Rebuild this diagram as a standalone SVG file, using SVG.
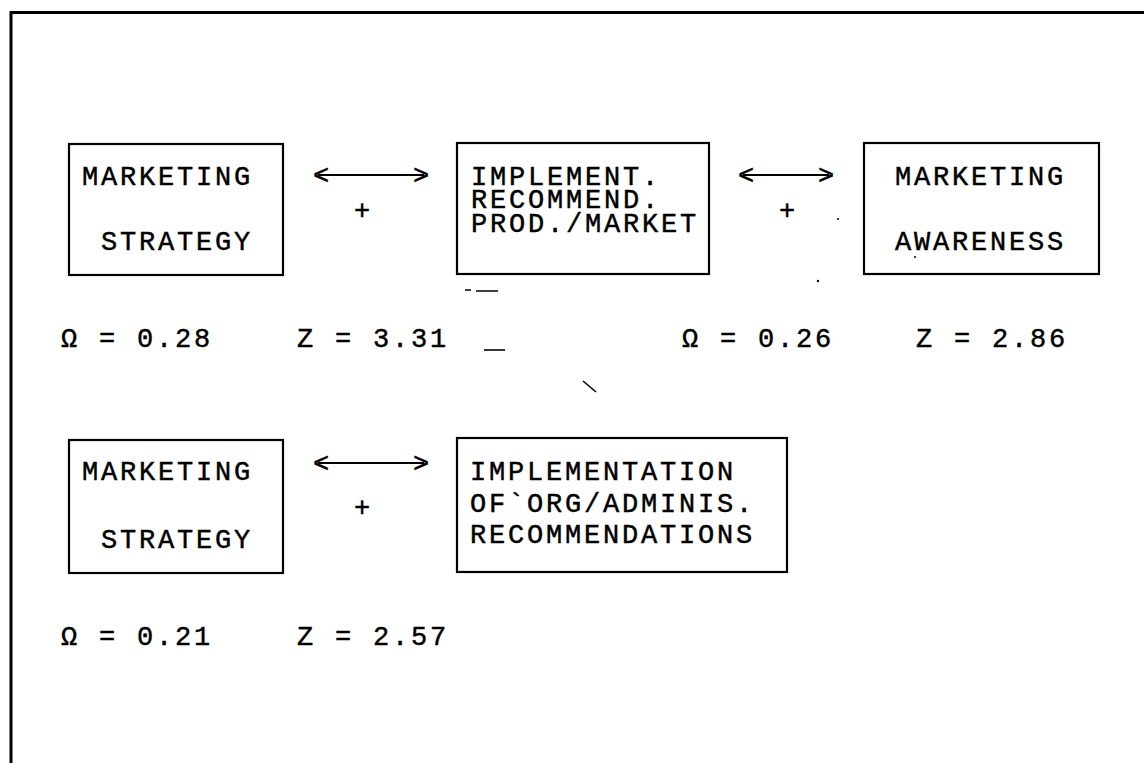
<svg xmlns="http://www.w3.org/2000/svg" width="1144" height="763" viewBox="0 0 1144 763">
  <style>
    .box { fill: #fff; stroke: #000; stroke-width: 2.2; }
    .t { font-family: "Liberation Mono", "Courier New", monospace; font-size: 27px; letter-spacing: 2.8px; fill: #000; stroke: #000; stroke-width: 0.45; }
    .link { stroke: #000; stroke-width: 2; fill: none; }
    .speck { stroke: #000; stroke-width: 1.6; fill: none; }
  </style>
  <rect width="1144" height="763" fill="#fff"/>

  <!-- page frame -->
  <path d="M11 763 V12.5 H1144" fill="none" stroke="#000" stroke-width="3"/>

  <!-- row 1 -->
  <g id="marketing-strategy-1">
    <rect class="box" x="69" y="144" width="214" height="131"/>
    <text class="t" x="82" y="185">MARKETING</text>
    <text class="t" x="101" y="250">STRATEGY</text>
  </g>
  <g id="implement-recommend">
    <rect class="box" x="457" y="143" width="252" height="131"/>
    <text class="t" x="471" y="185">IMPLEMENT.</text>
    <text class="t" x="471" y="208">RECOMMEND.</text>
    <text class="t" x="471" y="232">PROD./MARKET</text>
  </g>
  <g id="marketing-awareness">
    <rect class="box" x="864" y="143" width="235" height="131"/>
    <text class="t" x="895" y="185">MARKETING</text>
    <text class="t" x="895" y="250">AWARENESS</text>
  </g>

  <!-- row 2 -->
  <g id="marketing-strategy-2">
    <rect class="box" x="69" y="440" width="214" height="133"/>
    <text class="t" x="82" y="480">MARKETING</text>
    <text class="t" x="101" y="548">STRATEGY</text>
  </g>
  <g id="implementation-org">
    <rect class="box" x="457" y="438" width="330" height="134"/>
    <text class="t" x="470" y="480">IMPLEMENTATION</text>
    <text class="t" x="470" y="512">OF`ORG/ADMINIS.</text>
    <text class="t" x="470" y="543">RECOMMENDATIONS</text>
  </g>

  <!-- two-way links with their signs -->
  <g id="connectors">
    <g>
      <line class="link" x1="318" y1="175" x2="424" y2="175"/>
      <text class="t" x="313" y="184">&lt;</text>
      <text class="t" x="413" y="184">&gt;</text>
      <text class="t" x="354" y="219">+</text>
    </g>
    <g>
      <line class="link" x1="743" y1="175" x2="829" y2="175"/>
      <text class="t" x="738" y="184">&lt;</text>
      <text class="t" x="818" y="184">&gt;</text>
      <text class="t" x="779" y="219">+</text>
    </g>
    <g>
      <line class="link" x1="318" y1="463" x2="424" y2="463"/>
      <text class="t" x="313" y="472">&lt;</text>
      <text class="t" x="413" y="472">&gt;</text>
      <text class="t" x="354" y="516">+</text>
    </g>
  </g>

  <!-- statistics -->
  <g id="stats">
    <text class="t" x="61" y="347">Ω = 0.28</text>
    <text class="t" x="297" y="347">Z = 3.31</text>
    <text class="t" x="682" y="347">Ω = 0.26</text>
    <text class="t" x="916" y="347">Z = 2.86</text>
    <text class="t" x="61" y="645">Ω = 0.21</text>
    <text class="t" x="297" y="645">Z = 2.57</text>
  </g>

  <!-- stray specks on the sheet -->
  <g id="specks">
    <path class="speck" d="M465 290 H471 M476 291 H498"/>
    <path class="speck" d="M484 350 H505"/>
    <path class="speck" d="M583 381 L596 392"/>
    <circle cx="818" cy="281" r="1.2"/>
    <circle cx="838" cy="219" r="1"/>
    <circle cx="915" cy="257" r="1"/>
  </g>
</svg>
